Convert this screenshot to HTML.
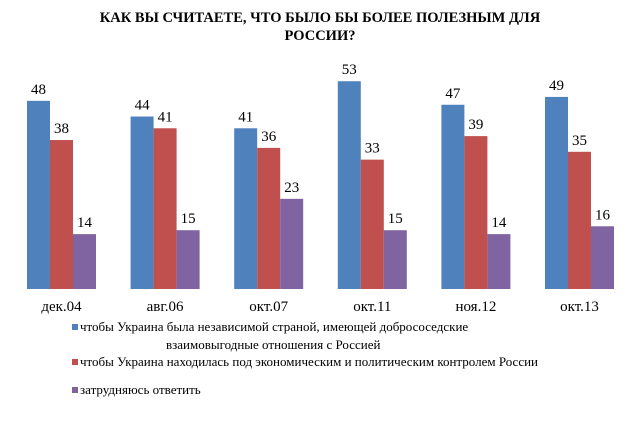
<!DOCTYPE html>
<html><head><meta charset="utf-8"><style>
body{margin:0;background:#fff;}
svg text{font-family:"Liberation Serif","DejaVu Serif",serif;}
</style></head><body>
<svg width="640" height="418" xmlns="http://www.w3.org/2000/svg">
<text x="320" y="22" text-anchor="middle" font-weight="bold" font-size="14.5">КАК ВЫ СЧИТАЕТЕ, ЧТО БЫЛО БЫ БОЛЕЕ ПОЛЕЗНЫМ ДЛЯ</text>
<text x="320" y="40" text-anchor="middle" font-weight="bold" font-size="14.5">РОССИИ?</text>
<g id="bars"></g>
<g id="legend" font-size="13">
<rect x="72" y="324" width="6" height="6" fill="#4f81bd"/>
<text x="80" y="331">чтобы Украина была независимой страной, имеющей добрососедские</text>
<text x="166" y="349">взаимовыгодные отношения с Россией</text>
<rect x="72" y="359" width="6" height="6" fill="#c0504d"/>
<text x="80" y="366">чтобы Украина находилась под экономическим и политическим контролем России</text>
<rect x="72" y="387" width="6" height="6" fill="#8064a2"/>
<text x="80" y="394">затрудняюсь ответить</text>
</g>
</svg>
<script>
const categories = ["дек.04","авг.06","окт.07","окт.11","ноя.12","окт.13"];
const independent = [48,44,41,53,47,49];
const control = [38,41,36,33,39,35];
const unsure = [14,15,23,15,14,16];
const seriesNames = ["independent","control","unsure"];
const colors = ["#4f81bd","#c0504d","#8064a2"];
const base = 289, scale = 3.92, x0 = 27, step = 103.6, bw = 23;
function y(v){return base - v*scale;}
function gx(i){return x0 + i*step;}
const g = document.getElementById('bars');
const NS = "http://www.w3.org/2000/svg";
[independent,control,unsure].forEach((s,si)=>{
  s.forEach((v,i)=>{
    const r = document.createElementNS(NS,'rect');
    
    
    r.setAttribute('x', gx(i)+si*bw); r.setAttribute('y', y(v));
    r.setAttribute('width', bw); r.setAttribute('height', base-y(v));
    r.setAttribute('fill', colors[si]);
    g.appendChild(r);
    const t = document.createElementNS(NS,'text');
    
    
    t.setAttribute('x', gx(i)+si*bw+bw/2); t.setAttribute('y', y(v)-7);
    t.setAttribute('text-anchor','middle'); t.setAttribute('font-size','15');
    t.textContent = v;
    g.appendChild(t);
  });
});
categories.forEach((c,i)=>{
  const t = document.createElementNS(NS,'text');
  
  
  t.setAttribute('x', gx(i)+1.5*bw); t.setAttribute('y', 311);
  t.setAttribute('text-anchor','middle'); t.setAttribute('font-size','15');
  t.textContent = c;
  g.appendChild(t);
});
</script>
</body></html>
